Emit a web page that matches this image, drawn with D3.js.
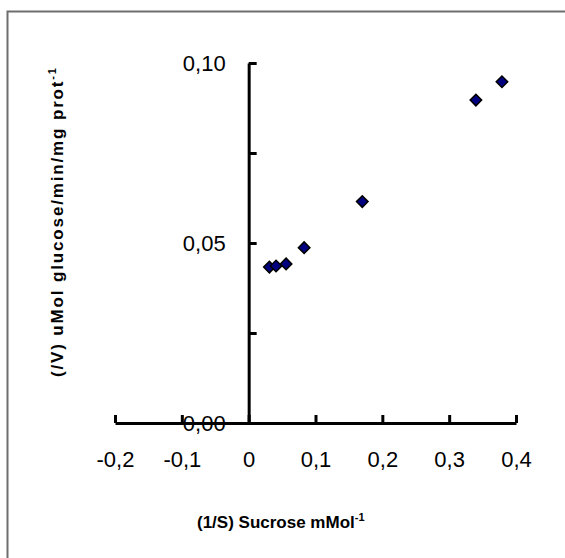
<!DOCTYPE html>
<html>
<head>
<meta charset="utf-8">
<script src="https://cdn.jsdelivr.net/npm/d3@7"></script>
<style>
  html, body { margin: 0; padding: 0; background: #fff; }
  svg { display: block; font-family: Arial, "Liberation Sans", sans-serif; }
</style>
</head>
<body>
<svg id="chart" width="565" height="558"></svg>
<script>
// Data
const xValues = [0.031, 0.041, 0.056, 0.083, 0.17, 0.34, 0.379];
const yValues = [0.0433, 0.0436, 0.0442, 0.0487, 0.0615, 0.0897, 0.0948];
const xTicks = [-0.2, -0.1, 0, 0.1, 0.2, 0.3, 0.4];
const yTicks = [0, 0.025, 0.05, 0.075, 0.1];
const yLabelTicks = [0, 0.05, 0.1];
const xTitle = "(1/S) Sucrose mMol";
const yTitle = "(/V) uMol glucose/min/mg prot";
const superscript = "-1";

const svg = d3.select("#chart");
const locale = d3.formatLocale({decimal: ",", thousands: ".", grouping: [3], currency: ["", ""], minus: "-"});
const fmtX = d => Math.abs(d) < 1e-9 ? "0" : locale.format(".1f")(d);
const fmtY = d => yLabelTicks.some(t => Math.abs(t - d) < 1e-9) ? locale.format(".2f")(d) : "";

// Frame
svg.append("rect")
  .attr("x", 7.5).attr("y", 11.5)
  .attr("width", 700).attr("height", 700)
  .attr("fill", "none").attr("stroke", "#6e6e6e").attr("stroke-width", 2);

const x = d3.scaleLinear().domain([-0.2, 0.4]).range([115, 516]);
const y = d3.scaleLinear().domain([0, 0.1]).range([423, 63]);

// X axis
const gx = svg.append("g")
  .attr("transform", `translate(0,${y(0)})`)
  .call(d3.axisBottom(x).tickValues(xTicks).tickFormat(fmtX)
        .tickSizeInner(-8).tickSizeOuter(0).tickPadding(28));
gx.select(".domain").attr("stroke", "#000").attr("stroke-width", 3);
gx.selectAll(".tick line").attr("stroke", "#000").attr("stroke-width", 3);
gx.selectAll(".tick text").attr("font-size", 22).attr("fill", "#000")
  .attr("font-family", "Arial, 'Liberation Sans', sans-serif");

// Y axis
const gy = svg.append("g")
  .attr("transform", `translate(${x(0)},0)`)
  .call(d3.axisLeft(y).tickValues(yTicks).tickFormat(fmtY)
        .tickSizeInner(-8).tickSizeOuter(0).tickPadding(23));
gy.select(".domain").attr("stroke", "#000").attr("stroke-width", 3);
gy.selectAll(".tick line").attr("stroke", "#000").attr("stroke-width", 3);
gy.selectAll(".tick text").attr("font-size", 22).attr("fill", "#000")
  .attr("font-family", "Arial, 'Liberation Sans', sans-serif");

// Points
const diamond = d3.symbol(d3.symbolSquare).size(66);
svg.append("g").selectAll("path")
  .data(xValues.map((v, i) => ({x: v, y: yValues[i]})))
  .join("path")
  .attr("d", diamond)
  .attr("transform", d => `translate(${x(d.x)},${y(d.y)}) rotate(45)`)
  .attr("fill", "#000080")
  .attr("stroke", "#000")
  .attr("stroke-width", 1.5);

// Axis titles
const xt = svg.append("text")
  .attr("x", 197).attr("y", 528)
  .attr("text-anchor", "start")
  .attr("font-size", 17).attr("font-weight", "bold").attr("fill", "#000");
xt.append("tspan").text(xTitle);
xt.append("tspan").attr("font-size", 11).attr("dy", -7).text(superscript);

const yt = svg.append("text")
  .attr("transform", "translate(63,377) rotate(-90)")
  .attr("text-anchor", "start")
  .attr("textLength", 309).attr("lengthAdjust", "spacing")
  .attr("font-size", 17).attr("font-weight", "bold").attr("fill", "#000");
yt.append("tspan").text(yTitle);
yt.append("tspan").attr("font-size", 11).attr("dy", -7).text(superscript);
</script>
</body>
</html>
